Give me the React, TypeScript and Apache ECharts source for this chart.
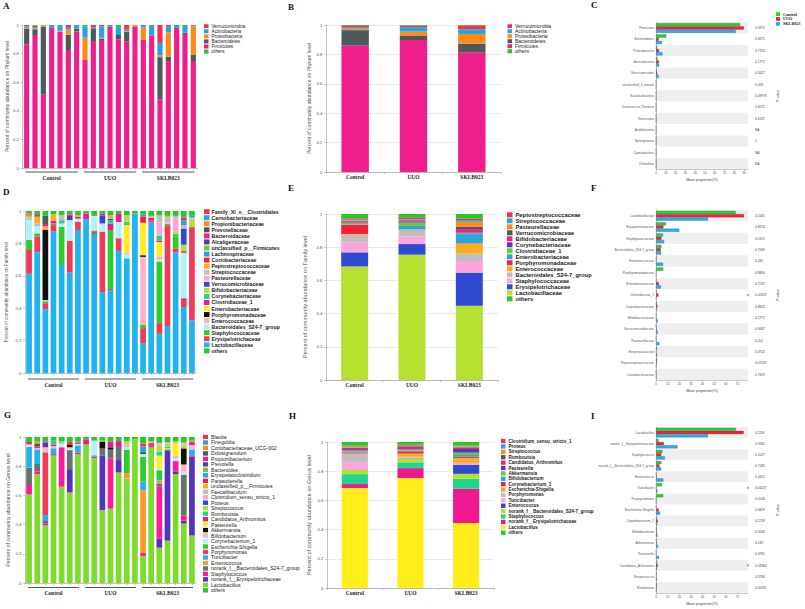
import React, { useEffect, useRef } from "react";
import * as echarts from "echarts";

// ---------------- data ----------------
const groupNames = ["Control", "UUO", "SKLB023"];
const sampleNames = [
  "C1", "C2", "C3", "C4", "C5", "C6", "C7",
  "U1", "U2", "U3", "U4", "U5", "U6", "U7",
  "S1", "S2", "S3", "S4", "S5", "S6", "S7",
];

// Phylum (panels A, B) - legend order, top to bottom
const phylumNames = ["Verrucomicrobia", "Actinobacteria", "Proteobacteria", "Bacteroidetes", "Firmicutes", "others"];
const phylumSampleRows: number[][] = [
  [0.01, 0.01, 0, 0, 0, 0.02, 0, 0, 0.018, 0.01, 0, 0, 0.032, 0, 0, 0.005, 0.126, 0.012, 0, 0, 0.005],
  [0.01, 0.01, 0, 0.02, 0.04, 0.013, 0.025, 0.077, 0.01, 0.08, 0.01, 0.055, 0.01, 0, 0.017, 0.07, 0.087, 0.04, 0.02, 0.04, 0.005],
  [0.005, 0.005, 0.01, 0, 0.005, 0.035, 0, 0.157, 0, 0.005, 0, 0, 0.005, 0.01, 0.088, 0, 0.012, 0.17, 0, 0, 0.2],
  [0.11, 0.04, 0.472, 0, 0, 0.107, 0.02, 0, 0.084, 0.01, 0.01, 0.03, 0.068, 0, 0, 0, 0.295, 0.03, 0, 0.01, 0.042],
  [0.865, 0.93, 0.516, 0.98, 0.955, 0.825, 0.955, 0.755, 0.888, 0.895, 0.98, 0.9, 0.885, 0.99, 0.895, 0.925, 0.48, 0.748, 0.98, 0.937, 0.748],
  [0, 0.005, 0.002, 0, 0, 0, 0, 0.011, 0, 0, 0, 0.015, 0, 0, 0, 0, 0, 0, 0, 0.013, 0],
];
const phylumGroupRows: number[][] = [
  [0.013, 0.012, 0.027],
  [0.01, 0.03, 0.032],
  [0.01, 0.03, 0.066],
  [0.105, 0.027, 0.059],
  [0.86, 0.898, 0.814],
  [0.002, 0.003, 0.002],
];

// Family (panels D, E)
const familySampleNames = [
  "Family_XI_o__Clostridiales", "Carnobacteriaceae", "Propionibacteriaceae", "Prevotellaceae",
  "Bacteroidaceae", "Alcaligenaceae", "unclassified_p__Firmicutes", "Lachnospiraceae",
  "Coriobacteriaceae", "Peptostreptococcaceae", "Streptococcaceae", "Pasteurellaceae",
  "Verrucomicrobiaceae", "Bifidobacteriaceae", "Corynebacteriaceae", "Clostridiaceae_1",
  "Enterobacteriaceae", "Porphyromonadaceae", "Enterococcaceae", "Bacteroidales_S24-7_group",
  "Staphylococcaceae", "Erysipelotrichaceae", "Lactobacillaceae", "others",
];
const familySampleRows: number[][] = [
  [0, 0, 0, 0, 0, 0, 0, 0, 0, 0, 0, 0, 0, 0, 0.003, 0, 0, 0, 0, 0, 0],
  [0, 0, 0, 0, 0, 0, 0, 0, 0, 0, 0, 0, 0, 0, 0.01, 0, 0, 0, 0, 0, 0.01],
  [0.005, 0, 0, 0, 0, 0, 0, 0, 0, 0, 0, 0, 0, 0, 0, 0, 0, 0, 0, 0, 0],
  [0, 0, 0.05, 0, 0, 0, 0, 0, 0, 0, 0, 0, 0, 0, 0, 0, 0, 0, 0, 0, 0],
  [0.008, 0.01, 0.015, 0, 0, 0.01, 0, 0, 0, 0.01, 0, 0, 0, 0, 0, 0, 0, 0, 0, 0.018, 0],
  [0, 0, 0, 0, 0, 0.025, 0, 0, 0, 0, 0, 0, 0, 0, 0, 0, 0, 0, 0, 0, 0],
  [0, 0, 0, 0.003, 0, 0, 0, 0, 0, 0, 0, 0, 0, 0, 0, 0, 0, 0, 0, 0, 0],
  [0, 0, 0, 0, 0, 0, 0, 0, 0, 0, 0, 0, 0, 0, 0, 0, 0, 0, 0, 0.03, 0],
  [0, 0, 0, 0, 0, 0, 0, 0, 0, 0, 0, 0, 0, 0, 0.04, 0, 0, 0, 0, 0, 0],
  [0.01, 0.04, 0.02, 0.04, 0, 0, 0.01, 0, 0, 0, 0.02, 0, 0, 0, 0, 0, 0, 0.01, 0, 0, 0],
  [0.01, 0.018, 0, 0, 0.03, 0, 0, 0, 0, 0, 0, 0, 0, 0, 0, 0.012, 0.045, 0.03, 0.015, 0.02, 0.015],
  [0, 0, 0, 0, 0, 0, 0, 0, 0, 0, 0, 0, 0, 0, 0, 0, 0.08, 0.008, 0.08, 0, 0],
  [0, 0, 0, 0, 0, 0, 0, 0, 0, 0.05, 0.01, 0, 0, 0, 0, 0, 0, 0, 0, 0.1, 0],
  [0, 0, 0, 0, 0, 0, 0, 0, 0, 0, 0, 0, 0.04, 0, 0, 0, 0, 0, 0.015, 0.04, 0.04],
  [0.005, 0, 0, 0, 0.02, 0, 0, 0, 0, 0, 0.02, 0, 0.02, 0, 0, 0, 0.03, 0, 0.02, 0, 0],
  [0, 0, 0, 0.015, 0, 0, 0.01, 0.036, 0, 0, 0.04, 0.05, 0, 0, 0, 0.015, 0.01, 0, 0, 0.01, 0],
  [0, 0, 0, 0, 0, 0, 0, 0, 0, 0, 0, 0, 0.17, 0, 0.2, 0, 0.09, 0, 0, 0, 0],
  [0, 0, 0.435, 0, 0, 0, 0, 0, 0, 0, 0, 0, 0, 0, 0.01, 0, 0, 0, 0, 0, 0],
  [0, 0, 0, 0, 0, 0, 0, 0, 0, 0, 0, 0, 0.01, 0, 0.42, 0, 0.02, 0, 0, 0, 0],
  [0.125, 0.045, 0.007, 0, 0.02, 0.127, 0.02, 0, 0.09, 0.05, 0, 0.1, 0.025, 0, 0, 0, 0.01, 0, 0, 0.28, 0],
  [0.062, 0.02, 0.012, 0.01, 0.236, 0, 0, 0, 0.01, 0, 0.363, 0, 0, 0, 0.02, 0, 0.38, 0.01, 0.07, 0, 0.005],
  [0.148, 0.097, 0.037, 0.04, 0, 0.197, 0.05, 0, 0.012, 0.374, 0.01, 0.078, 0, 0, 0.092, 0.015, 0.066, 0.622, 0.025, 0.055, 0.575],
  [0.612, 0.745, 0.394, 0.873, 0.667, 0.62, 0.883, 0.949, 0.858, 0.499, 0.509, 0.754, 0.708, 0.985, 0.185, 0.928, 0.242, 0.29, 0.745, 0.407, 0.325],
  [0.02, 0.025, 0.03, 0.022, 0.027, 0.021, 0.027, 0.015, 0.03, 0.017, 0.028, 0.018, 0.027, 0.015, 0.02, 0.03, 0.027, 0.03, 0.03, 0.04, 0.03],
];
const familyGroupNames = [
  "Peptostreptococcaceae", "Streptococcaceae", "Pasteurellaceae", "Verrucomicrobiaceae",
  "Bifidobacteriaceae", "Corynebacteriaceae", "Clostridiaceae_1", "Enterobacteriaceae",
  "Porphyromonadaceae", "Enterococcaceae", "Bacteroidales_S24-7_group", "Staphylococcaceae",
  "Erysipelotrichaceae", "Lactobacillaceae", "others",
];
const familyGroupRows: number[][] = [
  [0.008, 0.01, 0.01],
  [0.004, 0.003, 0.01],
  [0.004, 0.002, 0.03],
  [0.004, 0.003, 0.014],
  [0.006, 0.008, 0.02],
  [0.004, 0.006, 0.005],
  [0.006, 0.02, 0.005],
  [0.003, 0.02, 0.056],
  [0.056, 0.001, 0.002],
  [0.004, 0.002, 0.06],
  [0.046, 0.04, 0.044],
  [0.06, 0.046, 0.07],
  [0.085, 0.064, 0.2],
  [0.684, 0.755, 0.447],
  [0.026, 0.02, 0.027],
];

// Genus (panels G, H)
const genusSampleNames = [
  "Blautia", "Finegoldia", "Coriobacteriaceae_UCG-002", "Dolosigranulum", "Propionibacterium",
  "Prevotella", "Bacteroides", "Erysipelatoclostridium", "Parasutterella", "unclassified_p__Firmicutes",
  "Faecalibaculum", "Clostridium_sensu_stricto_1", "Proteus", "Streptococcus", "Romboutsia",
  "Candidatus_Arthromitus", "Pasteurella", "Akkermansia", "Bifidobacterium", "Corynebacterium_1",
  "Escherichia-Shigella", "Porphyromonas", "Turicibacter", "Enterococcus",
  "norank_f__Bacteroidales_S24-7_group", "Staphylococcus", "norank_f__Erysipelotrichaceae",
  "Lactobacillus", "others",
];
const genusSampleRows: number[][] = [
  [0, 0, 0, 0, 0, 0.02, 0, 0, 0, 0, 0, 0, 0, 0, 0.02, 0, 0, 0, 0, 0, 0],
  [0, 0, 0, 0, 0, 0, 0, 0, 0, 0, 0, 0, 0, 0, 0.04, 0, 0, 0, 0, 0, 0],
  [0, 0.015, 0, 0, 0, 0, 0, 0, 0, 0, 0, 0, 0, 0, 0, 0, 0, 0, 0, 0, 0.01],
  [0, 0.02, 0, 0, 0, 0, 0, 0, 0, 0, 0, 0, 0, 0, 0, 0, 0, 0, 0, 0, 0],
  [0.015, 0.01, 0.01, 0, 0, 0, 0, 0, 0, 0, 0, 0, 0, 0, 0, 0, 0, 0, 0, 0, 0.02],
  [0, 0, 0.03, 0, 0, 0, 0, 0, 0, 0, 0, 0, 0, 0, 0, 0, 0, 0, 0, 0, 0],
  [0, 0, 0, 0, 0, 0, 0, 0, 0, 0.01, 0, 0, 0, 0, 0, 0, 0, 0, 0, 0, 0],
  [0, 0, 0, 0, 0, 0, 0.005, 0, 0, 0, 0, 0, 0, 0, 0, 0, 0, 0, 0, 0, 0],
  [0, 0, 0, 0, 0, 0, 0, 0, 0, 0, 0, 0, 0, 0, 0, 0, 0, 0, 0, 0, 0],
  [0, 0, 0, 0, 0, 0, 0, 0, 0, 0, 0, 0, 0, 0, 0, 0, 0, 0, 0, 0, 0],
  [0, 0, 0, 0, 0.02, 0, 0, 0, 0, 0, 0, 0, 0, 0, 0, 0, 0, 0, 0, 0, 0],
  [0, 0, 0, 0, 0, 0, 0, 0, 0, 0, 0, 0, 0, 0, 0, 0, 0.02, 0.01, 0, 0.02, 0],
  [0, 0, 0, 0, 0, 0, 0, 0, 0, 0, 0, 0, 0, 0, 0, 0, 0, 0, 0, 0, 0],
  [0, 0, 0, 0, 0, 0, 0, 0, 0, 0, 0, 0, 0.02, 0, 0, 0.012, 0.04, 0.02, 0.015, 0.02, 0],
  [0, 0, 0, 0.03, 0, 0, 0, 0, 0, 0, 0, 0, 0, 0, 0, 0, 0.028, 0.01, 0, 0, 0],
  [0, 0, 0, 0.01, 0, 0, 0.01, 0.035, 0, 0, 0.04, 0.04, 0, 0, 0, 0.015, 0, 0, 0, 0, 0],
  [0, 0, 0, 0, 0, 0, 0, 0, 0, 0, 0, 0, 0, 0, 0, 0, 0.09, 0.008, 0.085, 0, 0],
  [0, 0, 0, 0, 0, 0.015, 0, 0, 0, 0.045, 0.015, 0, 0, 0, 0.01, 0, 0, 0, 0, 0.11, 0],
  [0.01, 0.01, 0.035, 0.015, 0, 0.01, 0, 0, 0, 0, 0, 0, 0.02, 0, 0, 0, 0, 0, 0.015, 0.05, 0.03],
  [0.01, 0, 0, 0, 0.02, 0.01, 0.01, 0, 0.1, 0, 0, 0, 0.02, 0, 0.02, 0, 0.01, 0, 0.02, 0.02, 0],
  [0, 0, 0, 0, 0, 0, 0, 0, 0, 0, 0, 0, 0.16, 0, 0.17, 0, 0.06, 0, 0, 0, 0],
  [0, 0, 0.43, 0, 0, 0, 0, 0, 0, 0, 0, 0, 0, 0, 0, 0, 0, 0, 0, 0, 0],
  [0.14, 0.1, 0.035, 0.04, 0, 0, 0.05, 0, 0.01, 0, 0, 0, 0, 0, 0.06, 0, 0.01, 0, 0, 0, 0.04],
  [0, 0, 0, 0, 0, 0, 0, 0, 0, 0, 0, 0, 0.035, 0, 0.43, 0, 0.02, 0, 0, 0, 0],
  [0.12, 0.05, 0.021, 0, 0, 0.13, 0, 0, 0, 0.05, 0.06, 0.09, 0, 0, 0, 0, 0.02, 0.01, 0, 0.28, 0],
  [0.064, 0.02, 0.015, 0.01, 0.27, 0, 0.01, 0, 0.01, 0, 0.345, 0, 0, 0, 0.02, 0.015, 0.36, 0, 0.07, 0.035, 0.01],
  [0, 0, 0, 0, 0, 0.16, 0, 0, 0, 0.372, 0, 0.085, 0, 0, 0, 0, 0.06, 0.615, 0.02, 0.02, 0.54],
  [0.607, 0.745, 0.394, 0.873, 0.66, 0.62, 0.883, 0.949, 0.855, 0.499, 0.509, 0.757, 0.716, 0.985, 0.185, 0.928, 0.242, 0.29, 0.745, 0.407, 0.325],
  [0.034, 0.03, 0.03, 0.022, 0.03, 0.035, 0.037, 0.016, 0.025, 0.024, 0.031, 0.028, 0.029, 0.015, 0.045, 0.03, 0.04, 0.037, 0.03, 0.038, 0.03],
];
const genusGroupNames = [
  "Clostridium_sensu_stricto_1", "Proteus", "Streptococcus", "Romboutsia", "Candidatus_Arthromitus",
  "Pasteurella", "Akkermansia", "Bifidobacterium", "Corynebacterium_1", "Escherichia-Shigella",
  "Porphyromonas", "Turicibacter", "Enterococcus", "norank_f__Bacteroidales_S24-7_group",
  "Staphylococcus", "norank_f__Erysipelotrichaceae", "Lactobacillus", "others",
];
const genusGroupRows: number[][] = [
  [0.005, 0.005, 0.004],
  [0.003, 0.002, 0.002],
  [0.006, 0.003, 0.006],
  [0.008, 0.005, 0.004],
  [0.01, 0.015, 0.008],
  [0.003, 0.003, 0.025],
  [0.004, 0.006, 0.016],
  [0.008, 0.006, 0.012],
  [0.006, 0.015, 0.008],
  [0.004, 0.023, 0.034],
  [0.056, 0.004, 0.001],
  [0.05, 0.005, 0.012],
  [0.002, 0.003, 0.062],
  [0.03, 0.025, 0.034],
  [0.068, 0.04, 0.068],
  [0.027, 0.068, 0.235],
  [0.685, 0.753, 0.445],
  [0.025, 0.022, 0.024],
];

// Group comparisons (panels C, F, I) - mean proportion (%)
const phylumTestNames = [
  "Firmicutes", "Bacteroidetes", "Proteobacteria", "Actinobacteria", "Verrucomicrobia",
  "unclassified_k_norank", "Saccharibacteria", "Deinococcus-Thermus", "Tenericutes",
  "Acidobacteria", "Synergistetes", "Cyanobacteria", "Chloroflexi",
];
const phylumTestControl = [86.0, 10.5, 1.2, 1.5, 0.6, 0.05, 0.03, 0.03, 0.02, 0.0, 0.01, 0.0, 0.0];
const phylumTestUUO = [89.8, 2.7, 3.0, 3.0, 1.2, 0.04, 0.03, 0.01, 0.01, 0.0, 0.0, 0.0, 0.0];
const phylumTestSKLB = [81.4, 5.9, 6.6, 3.2, 2.7, 0.05, 0.02, 0.02, 0.02, 0.01, 0.0, 0.0, 0.0];
const phylumTestP = ["0.0975", "0.6071", "0.7755", "0.1771", "0.5027", "0.493", "0.09978", "0.6071", "0.6137", "NA", "1", "NA", "NA"];

const familyTestNames = [
  "Lactobacillaceae", "Erysipelotrichaceae", "Staphylococcaceae", "Bacteroidales_S24-7_group",
  "Enterococcaceae", "Porphyromonadaceae", "Enterobacteriaceae", "Clostridiaceae_1",
  "Corynebacteriaceae", "Bifidobacteriaceae", "Verrucomicrobiaceae", "Pasteurellaceae",
  "Streptococcaceae", "Peptostreptococcaceae", "Carnobacteriaceae",
];
const familyTestControl = [68.4, 8.5, 6.0, 4.6, 0.4, 6.2, 0.3, 0.6, 0.5, 0.3, 0.1, 0.1, 0.8, 1.0, 0.1];
const familyTestUUO = [75.5, 6.4, 4.6, 4.0, 0.2, 0.1, 2.4, 2.0, 1.2, 0.2, 0.5, 0.1, 0.2, 0.6, 0.1];
const familyTestSKLB = [44.7, 20.0, 7.0, 4.4, 6.0, 0.2, 4.3, 0.3, 0.6, 1.5, 1.4, 2.9, 1.0, 0.2, 0.3];
const familyTestP = ["0.1165", "0.8274", "0.5119", "0.7569", "0.430", "0.8804", "0.2737", "0.02429", "0.8602", "0.2771", "0.0647", "0.201", "0.3712", "0.07229", "0.7429"];

const genusTestNames = [
  "Lactobacillus", "norank_f__Erysipelotrichaceae", "Staphylococcus", "norank_f__Bacteroidales_S24-7_group",
  "Enterococcus", "Turicibacter", "Porphyromonas", "Escherichia-Shigella", "Corynebacterium_1",
  "Bifidobacterium", "Akkermansia", "Pasteurella", "Candidatus_Arthromitus", "Streptococcus", "Romboutsia",
];
const genusTestControl = [68.5, 2.3, 5.5, 4.6, 0.3, 5.2, 6.2, 0.2, 0.6, 0.8, 0.4, 0.1, 1.0, 0.6, 0.8];
const genusTestUUO = [75.3, 6.8, 4.5, 3.0, 0.5, 0.2, 0.0, 2.3, 1.5, 0.6, 0.6, 0.2, 1.5, 0.3, 0.5];
const genusTestSKLB = [44.5, 18.5, 7.5, 4.4, 6.3, 1.2, 0.1, 3.4, 0.8, 1.2, 1.6, 2.5, 0.8, 0.8, 0.4];
const genusTestP = ["0.1118", "0.9331", "0.1027", "0.7185", "0.4451", "0.04237", "0.5016", "0.4829", "0.1239", "0.2046", "0.149", "0.3765", "0.03364", "0.3746", "0.05592"];

// ---------------- styles ----------------
const palette = [
  "#f5304e", "#1ea7e0", "#ff8a1a", "#4c5a5b", "#ee1f8c", "#5b34b8", "#61d12e", "#2ba4d9",
  "#f5213a", "#ffab1f", "#bfbfbf", "#ffa3dc", "#3049d1", "#b5e030", "#1fd68a", "#f0188e",
  "#ffee1c", "#111111", "#ffb0c8", "#b3f0ff", "#2bcc2b", "#f03a58", "#1fb3ef", "#ff9922",
  "#647272", "#ff1a9a", "#5533bb", "#7ddb2e",
];
const othersColor = "#22cc22";
const groupColors = ["#2bd12b", "#f5213a", "#1fb3ef"];
const SANS = "Liberation Sans";
const SERIF = "Liberation Serif";

function buildOption() {
  const grids: any[] = [];
  const xAxes: any[] = [];
  const yAxes: any[] = [];
  const series: any[] = [];
  const legends: any[] = [];
  const graphics: any[] = [];

  const colorOf = (names: string[], i: number) => (names[i] === "others" ? othersColor : palette[i]);

  const makeLegend = (key: string, names: string[], left: number, top: number, h: number, gap: number, fs: number, bold: boolean, w: number) => ({
    orient: "vertical", left, top, padding: 0, itemGap: gap, itemWidth: w, itemHeight: h, icon: "rect",
    selectedMode: false,
    data: names.map((n) => n + "@" + key),
    formatter: (n: string) => n.split("@")[0],
    itemStyle: { borderWidth: 0 },
    textStyle: { fontSize: fs, lineHeight: h, color: "#1a1a1a", fontWeight: bold ? "bold" : "normal", fontFamily: SANS, padding: [0, 0, 0, -2] },
  });

  // legend drawn item by item (fixed row pitch)
  const addFixedLegend = (names: string[], left: number, firstCenter: number, pitch: number, iconW: number, iconH: number, fs: number, bold: boolean) => {
    const children: any[] = [];
    names.forEach((n, i) => {
      const cy = firstCenter + i * pitch;
      children.push({ type: "rect", silent: true, shape: { x: left, y: cy - iconH / 2, width: iconW, height: iconH }, style: { fill: colorOf(names, i) } });
      children.push({ type: "text", silent: true, x: left + iconW + 2, y: cy, style: { text: n, font: `${bold ? "bold " : ""}${fs}px "${SANS}"`, fill: "#1a1a1a", verticalAlign: "middle", align: "left" } });
    });
    graphics.push({ type: "group", silent: true, children });
  };

  const yValueAxis = (gi: number, name: string, nameGap: number, nameSize: number, dotted: boolean) => ({
    gridIndex: gi, type: "value", min: 0, max: 1, interval: 0.2,
    name, nameLocation: "middle", nameGap,
    nameTextStyle: { fontSize: nameSize, color: "#555", fontFamily: SANS },
    axisLine: { show: true, lineStyle: { color: "#999", width: 0.6 } },
    axisTick: { show: true, length: 2, lineStyle: { color: "#999", width: 0.5 } },
    axisLabel: { fontSize: 4.3, color: "#555", margin: 3.5, fontFamily: SANS },
    splitLine: { show: dotted, lineStyle: { type: "dotted", color: "#bbb", width: 0.6 } },
  });

  const stackOrder = (names: string[]) => {
    const order: number[] = [];
    for (let i = names.length - 2; i >= 0; i--) order.push(i);
    order.push(names.length - 1);
    return order;
  };

  const addSampleStack = (key: string, grid: any, names: string[], rows: number[][], yName: string, yGap: number, ySize: number, lineOff: number, labelOff: number, gapPct: string, legend: any) => {
    const gi = grids.length;
    grids.push(grid);
    const xi = xAxes.length;
    xAxes.push({
      gridIndex: gi, type: "category", data: sampleNames,
      axisLine: { lineStyle: { color: "#999", width: 0.6 } },
      axisTick: { show: true, length: 2, alignWithLabel: true, interval: 0, lineStyle: { color: "#999", width: 0.5 } },
      axisLabel: { show: false },
    });
    xAxes.push({
      gridIndex: gi, type: "category", data: groupNames, position: "bottom", offset: labelOff,
      axisLine: { show: false }, axisTick: { show: false },
      axisLabel: { fontFamily: SERIF, fontWeight: "bold", fontSize: 5.5, color: "#222", margin: 0 },
    });
    const yi = yAxes.length;
    yAxes.push(yValueAxis(gi, yName, yGap, ySize, false));
    stackOrder(names).forEach((i) => {
      series.push({ type: "bar", name: names[i] + "@" + key, xAxisIndex: xi, yAxisIndex: yi, stack: "s" + key, data: rows[i], barCategoryGap: gapPct, itemStyle: { color: colorOf(names, i) }, silent: true });
    });
    series.push({
      type: "custom", xAxisIndex: xi + 1, yAxisIndex: yi, silent: true, clip: false,
      data: groupNames.map((_, i) => [i, 0]),
      renderItem: (_p: any, api: any) => {
        const c = api.coord([api.value(0), 0]);
        const w = api.size([1, 0])[0];
        return { type: "line", shape: { x1: c[0] - w / 2 + 3, y1: c[1] + lineOff, x2: c[0] + w / 2 - 3, y2: c[1] + lineOff }, style: { stroke: "#444", lineWidth: 0.9 } };
      },
    });
    if (legend) legends.push(legend);
  };

  const addGroupStack = (key: string, grid: any, names: string[], rows: number[][], yName: string, yGap: number, ySize: number, labelMargin: number, legend: any) => {
    const gi = grids.length;
    grids.push(grid);
    const xi = xAxes.length;
    xAxes.push({
      gridIndex: gi, type: "category", data: groupNames,
      axisLine: { lineStyle: { color: "#999", width: 0.6 } },
      axisTick: { show: true, length: 2, lineStyle: { color: "#999", width: 0.5 } },
      axisLabel: { fontFamily: SERIF, fontWeight: "bold", fontSize: 5.5, color: "#222", margin: labelMargin },
    });
    const yi = yAxes.length;
    yAxes.push(yValueAxis(gi, yName, yGap, ySize, true));
    stackOrder(names).forEach((i) => {
      series.push({ type: "bar", name: names[i] + "@" + key, xAxisIndex: xi, yAxisIndex: yi, stack: "s" + key, data: rows[i], barCategoryGap: "53%", itemStyle: { color: colorOf(names, i) }, silent: true });
    });
    legends.push(legend);
  };

  const addComparison = (key: string, grid: any, names: string[], vals: number[][], pvals: string[], xMax: number) => {
    const gi = grids.length;
    grids.push(grid);
    const xi = xAxes.length;
    xAxes.push({
      gridIndex: gi, type: "value", min: 0, max: xMax, interval: 10,
      name: "Mean proportion(%)", nameLocation: "middle", nameGap: 9,
      nameTextStyle: { fontSize: 3.6, color: "#444", fontFamily: SANS },
      axisLine: { show: true, lineStyle: { color: "#999", width: 0.5 } },
      axisTick: { show: true, length: 1.5, lineStyle: { color: "#999", width: 0.5 } },
      axisLabel: { fontSize: 3, color: "#555", margin: 2, showMaxLabel: false, fontFamily: SANS },
      splitLine: { show: false },
    });
    const yi = yAxes.length;
    yAxes.push({
      gridIndex: gi, type: "category", data: names, inverse: true,
      axisLine: { show: true, lineStyle: { color: "#999", width: 0.5 } },
      axisTick: { show: false },
      axisLabel: { fontSize: 3.2, color: "#555", margin: 2, fontFamily: SANS },
      splitArea: { show: true, areaStyle: { color: ["#efefef", "rgba(255,255,255,0)"] } },
    });
    yAxes.push({
      gridIndex: gi, type: "category", data: pvals, inverse: true, position: "right",
      axisLine: { show: false }, axisTick: { show: false },
      axisLabel: { fontSize: 3.2, color: "#444", margin: 7, fontFamily: SANS },
      name: "P-value", nameLocation: "middle", nameGap: 28,
      nameTextStyle: { fontSize: 3.6, color: "#444", fontFamily: SANS },
      splitLine: { show: false }, splitArea: { show: false },
    });
    vals.forEach((v, k) => {
      series.push({
        type: "bar", name: groupNames[k] + "@" + key, xAxisIndex: xi, yAxisIndex: yi, data: v,
        barGap: "0%", barCategoryGap: "14%", silent: true,
        itemStyle: { color: groupColors[k], borderColor: "#555", borderWidth: 0.3 },
      });
    });
    const sig = names.filter((_, i) => parseFloat(pvals[i]) < 0.05).map((n) => [xMax, n]);
    series.push({ type: "scatter", xAxisIndex: xi, yAxisIndex: yi, data: sig, symbolSize: 2.5, clip: false, silent: true, itemStyle: { color: "#ff6fae" } });
  };

  // Row 1
  addSampleStack("A", { left: 22.5, top: 25, width: 175, height: 143 }, phylumNames, phylumSampleRows,
    "Percent of community abundance on Phylum level", 13, 5, 4, 7, "38%",
    makeLegend("A", phylumNames, 204, 23.7, 4, 0.07, 4.7, false, 4.5));
  addGroupStack("B", { left: 326, top: 25, width: 175, height: 147 }, phylumNames, phylumGroupRows,
    "Percent of community abundance on Phylum level", 15, 5, 2,
    makeLegend("B", phylumNames, 507.5, 23.7, 4, 0, 5, false, 4.5));
  addComparison("C", { left: 656, top: 22.3, width: 92, height: 147 }, phylumTestNames,
    [phylumTestControl, phylumTestUUO, phylumTestSKLB], phylumTestP, 94);
  legends.push({
    orient: "vertical", left: 776, top: 12.1, padding: 0, itemGap: 0.85, itemWidth: 4, itemHeight: 3.8, icon: "rect",
    selectedMode: false, data: groupNames.map((g) => g + "@C"), formatter: (n: string) => n.split("@")[0],
    itemStyle: { borderWidth: 0 },
    textStyle: { fontSize: 4.2, lineHeight: 3.8, color: "#222", fontWeight: "bold", fontFamily: SERIF, padding: [0, 0, 0, -2] },
  });

  // Row 2
  addSampleStack("D", { left: 25, top: 211, width: 171, height: 162 }, familySampleNames, familySampleRows,
    "Percent of community abundance on Family level", 16, 4.6, 6, 9, "30%", null);
  addFixedLegend(familySampleNames, 204, 211.7, 6.05, 5.5, 5, 5.2, true);
  addGroupStack("E", { left: 326, top: 214, width: 172, height: 166 }, familyGroupNames, familyGroupRows,
    "Percent of community abundance on Family level", 18, 5.6, 1.5,
    makeLegend("E", familyGroupNames, 507, 211.8, 5, 0, 5.8, true, 5.5));
  addComparison("F", { left: 656, top: 210, width: 92, height: 170 }, familyTestNames,
    [familyTestControl, familyTestUUO, familyTestSKLB], familyTestP, 79);

  // Row 3
  addSampleStack("G", { left: 25, top: 437, width: 171, height: 146 }, genusSampleNames, genusSampleRows,
    "Percent of community abundance on Genus level", 15, 5.2, 4.5, 7, "30%",
    makeLegend("G", genusSampleNames, 203, 434.5, 4.4, 0.476, 5.1, false, 5));
  addGroupStack("H", { left: 327, top: 442, width: 167, height: 146 }, genusGroupNames, genusGroupRows,
    "Percent of community abundance on Genus level", 15, 5.5, 2,
    makeLegend("H", genusGroupNames, 501, 438.55, 4.3, 0.39, 4.6, true, 4.5));
  addComparison("I", { left: 656, top: 427, width: 92, height: 166 }, genusTestNames,
    [genusTestControl, genusTestUUO, genusTestSKLB], genusTestP, 79);

  const letters: [string, number, number][] = [
    ["A", 3, 6], ["B", 288, 7], ["C", 591, 5],
    ["D", 3, 192], ["E", 288, 188], ["F", 591, 188],
    ["G", 4, 415], ["H", 289, 416], ["I", 591, 416],
  ];
  letters.forEach(([t, x, y]) => {
    graphics.push({ type: "text", x, y, silent: true, style: { text: t, font: `bold 9px "${SERIF}"`, fill: "#111", verticalAlign: "middle" } });
  });

  return {
    animation: false,
    backgroundColor: "#ffffff",
    grid: grids,
    xAxis: xAxes,
    yAxis: yAxes,
    legend: legends,
    series,
    graphic: graphics,
  };
}

export default function App() {
  const ref = useRef<HTMLDivElement>(null);
  useEffect(() => {
    if (!ref.current) return;
    const chart = echarts.init(ref.current, null, { renderer: "svg" });
    chart.setOption(buildOption() as any);
    return () => chart.dispose();
  }, []);
  return <div ref={ref} style={{ position: "absolute", left: 0, top: 0, width: 805, height: 609, background: "#fff" }} />;
}
